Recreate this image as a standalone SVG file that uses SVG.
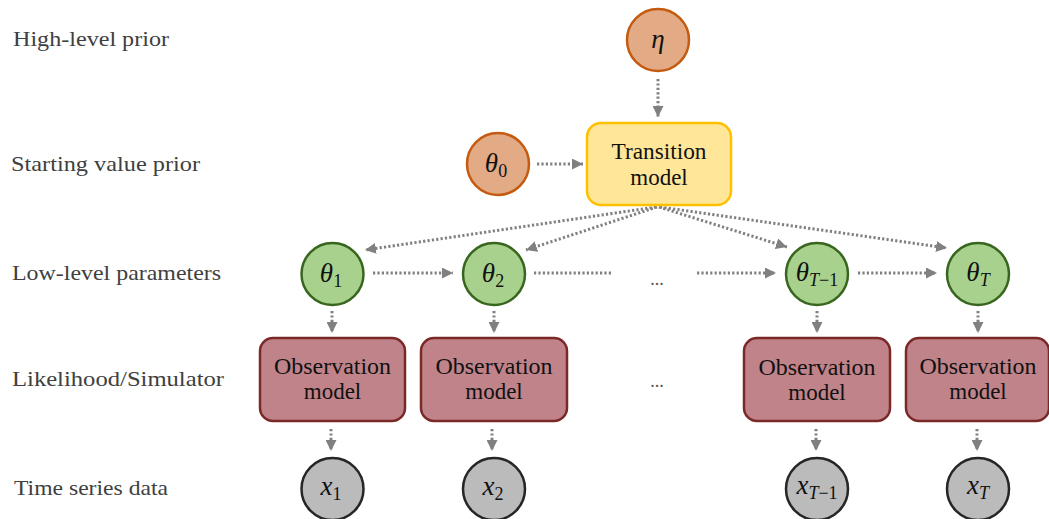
<svg xmlns="http://www.w3.org/2000/svg" width="1049" height="519" viewBox="0 0 1049 519">
<style>
.lbl{font-family:"Liberation Serif","DejaVu Serif",serif;font-size:22px;fill:#404040}
.nt{font-family:"Liberation Serif","DejaVu Serif",serif;font-size:23px;fill:#111;text-anchor:middle}
.m{font-family:"Liberation Serif","DejaVu Serif",serif;font-style:italic;font-size:27px;fill:#111;text-anchor:middle}
.sub{font-size:18px}
.up{font-style:normal}
.orange{fill:#E2AA85;stroke:#C55A11;stroke-width:2.5}
.trans{fill:#FFE699;stroke:#FFC000;stroke-width:2.5}
.green{fill:#A9D18E;stroke:#38661F;stroke-width:2.5}
.obs{fill:#C0838A;stroke:#7B2828;stroke-width:2.5}
.gray{fill:#BBBBBB;stroke:#262626;stroke-width:2.5}
.c{stroke:#808080;stroke-width:3;stroke-dasharray:2.2 2.2;fill:none}
.dots{font-family:"Liberation Serif",serif;font-size:18px;fill:#555;text-anchor:middle}
</style>
<defs>
<marker id="ah" markerUnits="userSpaceOnUse" markerWidth="11" markerHeight="11" viewBox="0 0 10 10" refX="10" refY="5" orient="auto">
<path d="M0,0 L10,5 L0,10 z" fill="#808080"/>
</marker>
</defs>
<rect width="1049" height="519" fill="#fff"/>

<g id="labels">
<text class="lbl" x="13" y="46" textLength="156" lengthAdjust="spacingAndGlyphs">High-level prior</text>
<text class="lbl" x="11" y="171" textLength="189" lengthAdjust="spacingAndGlyphs">Starting value prior</text>
<text class="lbl" x="12" y="280" textLength="209" lengthAdjust="spacingAndGlyphs">Low-level parameters</text>
<text class="lbl" x="12" y="386" textLength="212" lengthAdjust="spacingAndGlyphs">Likelihood/Simulator</text>
<text class="lbl" x="14" y="495" textLength="154" lengthAdjust="spacingAndGlyphs">Time series data</text>
</g>

<g id="connectors">
<line class="c" x1="658" y1="79" x2="658" y2="117" marker-end="url(#ah)"/>
<line class="c" x1="537" y1="164" x2="583" y2="164" marker-end="url(#ah)"/>
<line class="c" x1="656" y1="207" x2="365" y2="250" marker-end="url(#ah)"/>
<line class="c" x1="657" y1="207" x2="526" y2="250" marker-end="url(#ah)"/>
<line class="c" x1="659" y1="207" x2="787" y2="247" marker-end="url(#ah)"/>
<line class="c" x1="660" y1="207" x2="947" y2="248" marker-end="url(#ah)"/>
<line class="c" x1="373" y1="273" x2="453" y2="273" marker-end="url(#ah)"/>
<line class="c" x1="534" y1="273" x2="611" y2="273"/>
<line class="c" x1="697" y1="273" x2="776" y2="273" marker-end="url(#ah)"/>
<line class="c" x1="858" y1="273" x2="937" y2="273" marker-end="url(#ah)"/>
<line class="c" x1="332" y1="311" x2="332" y2="333" marker-end="url(#ah)"/>
<line class="c" x1="494" y1="311" x2="494" y2="333" marker-end="url(#ah)"/>
<line class="c" x1="817" y1="311" x2="817" y2="333" marker-end="url(#ah)"/>
<line class="c" x1="978" y1="311" x2="978" y2="333" marker-end="url(#ah)"/>
<line class="c" x1="331" y1="429" x2="331" y2="451" marker-end="url(#ah)"/>
<line class="c" x1="492" y1="429" x2="492" y2="451" marker-end="url(#ah)"/>
<line class="c" x1="816" y1="429" x2="816" y2="451" marker-end="url(#ah)"/>
<line class="c" x1="977" y1="429" x2="977" y2="451" marker-end="url(#ah)"/>
</g>

<g id="eta"><circle class="orange" cx="658" cy="40" r="31"/><text class="m" x="658" y="48">η</text></g>
<g id="theta0"><circle class="orange" cx="498" cy="164" r="31"/><text class="m" x="496" y="172">θ<tspan class="sub up" dy="5">0</tspan></text></g>
<g id="transition"><rect class="trans" x="587" y="123" width="144" height="82" rx="14"/>
<text class="nt" x="659" y="159" textLength="95" lengthAdjust="spacingAndGlyphs">Transition</text>
<text class="nt" x="659" y="185">model</text></g>

<g id="theta1"><circle class="green" cx="332.5" cy="274" r="31"/><text class="m" x="331" y="282">θ<tspan class="sub up" dy="5">1</tspan></text></g>
<g id="theta2"><circle class="green" cx="494" cy="274" r="31"/><text class="m" x="493" y="282">θ<tspan class="sub up" dy="5">2</tspan></text></g>
<g id="thetaT1"><circle class="green" cx="817" cy="274" r="31"/><text class="m" x="817" y="281">θ<tspan class="sub" dy="5">T</tspan><tspan class="sub up">−1</tspan></text></g>
<g id="thetaT"><circle class="green" cx="978" cy="274" r="31"/><text class="m" x="978" y="281">θ<tspan class="sub" dy="5">T</tspan></text></g>

<g id="dots1"><text class="dots" x="657" y="285">...</text></g>
<g id="dots2"><text class="dots" x="657" y="387">...</text></g>

<g id="obs1"><rect class="obs" x="260" y="338" width="145" height="83" rx="13"/>
<text class="nt" x="332.5" y="374" textLength="117" lengthAdjust="spacingAndGlyphs">Observation</text><text class="nt" x="332.5" y="399">model</text></g>
<g id="obs2"><rect class="obs" x="421" y="338" width="146" height="83" rx="13"/>
<text class="nt" x="494" y="374" textLength="117" lengthAdjust="spacingAndGlyphs">Observation</text><text class="nt" x="494" y="399">model</text></g>
<g id="obs3"><rect class="obs" x="744" y="338" width="146" height="83" rx="13"/>
<text class="nt" x="817" y="375" textLength="117" lengthAdjust="spacingAndGlyphs">Observation</text><text class="nt" x="817" y="400">model</text></g>
<g id="obs4"><rect class="obs" x="906" y="338" width="143" height="83" rx="13"/>
<text class="nt" x="978" y="374" textLength="117" lengthAdjust="spacingAndGlyphs">Observation</text><text class="nt" x="978" y="399">model</text></g>

<g id="x1"><circle class="gray" cx="332.5" cy="489" r="31"/><text class="m" x="331" y="495">x<tspan class="sub up" dy="5">1</tspan></text></g>
<g id="x2"><circle class="gray" cx="494" cy="489" r="31"/><text class="m" x="493" y="495">x<tspan class="sub up" dy="5">2</tspan></text></g>
<g id="xT1"><circle class="gray" cx="817" cy="489" r="31"/><text class="m" x="817" y="494">x<tspan class="sub" dy="5">T</tspan><tspan class="sub up">−1</tspan></text></g>
<g id="xT"><circle class="gray" cx="978" cy="489" r="31"/><text class="m" x="978" y="494">x<tspan class="sub" dy="5">T</tspan></text></g>
</svg>
